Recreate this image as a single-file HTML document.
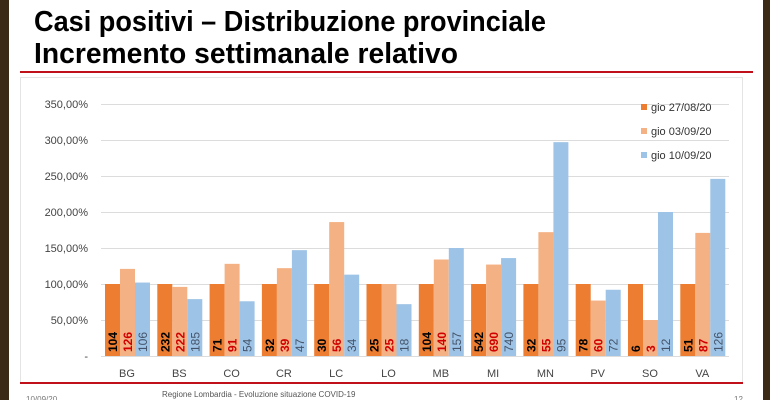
<!DOCTYPE html>
<html><head><style>
html,body{margin:0;padding:0;}
body{width:770px;height:400px;overflow:hidden;background:#3a2a16;position:relative;font-family:"Liberation Sans",sans-serif;}
</style></head><body>
<svg width="770" height="400" xmlns="http://www.w3.org/2000/svg" style="position:absolute;left:0;top:0">
<rect x="9" y="0" width="754" height="400" fill="#fff"/>
<text x="34" y="31" font-size="29" font-weight="bold" fill="#000" font-family="Liberation Sans Narrow, Liberation Sans, sans-serif" textLength="512" lengthAdjust="spacingAndGlyphs">Casi positivi – Distribuzione provinciale</text>
<text x="34" y="63" font-size="29" font-weight="bold" fill="#000" font-family="Liberation Sans Narrow, Liberation Sans, sans-serif" textLength="424" lengthAdjust="spacingAndGlyphs">Incremento settimanale relativo</text>
<rect x="20" y="71" width="733" height="2" fill="#c0101a"/>
<rect x="20.5" y="77.5" width="722" height="306" fill="none" stroke="#e4e4e4"/>
<rect x="20" y="382" width="723" height="2" fill="#c0101a"/>
<g stroke="#dcdcdc" stroke-width="1">
<line x1="101" x2="729" y1="104.5" y2="104.5"/><line x1="101" x2="729" y1="140.5" y2="140.5"/>
<line x1="101" x2="729" y1="176.5" y2="176.5"/><line x1="101" x2="729" y1="212.5" y2="212.5"/>
<line x1="101" x2="729" y1="248.5" y2="248.5"/><line x1="101" x2="729" y1="284.5" y2="284.5"/>
<line x1="101" x2="729" y1="320.5" y2="320.5"/><line x1="101" x2="729" y1="356.5" y2="356.5"/>
</g>
<g font-size="11" fill="#444" text-anchor="end">
<text x="88" y="108">350,00%</text><text x="88" y="144">300,00%</text><text x="88" y="180">250,00%</text>
<text x="88" y="216">200,00%</text><text x="88" y="252">150,00%</text><text x="88" y="288">100,00%</text>
<text x="88" y="324">50,00%</text><text x="88" y="360">-</text>
</g>
<g id="bars"></g>
<g font-size="11" fill="#333">
<rect x="641" y="104" width="6" height="6" fill="#ED7D31"/><text x="651" y="111">gio 27/08/20</text>
<rect x="641" y="128" width="6" height="6" fill="#F4B183"/><text x="651" y="135">gio 03/09/20</text>
<rect x="641" y="152" width="6" height="6" fill="#9DC3E6"/><text x="651" y="159">gio 10/09/20</text>
</g>
<text x="162" y="397" font-size="8" fill="#555">Regione Lombardia - Evoluzione situazione COVID-19</text>
<text x="26" y="402" font-size="8" fill="#777">10/09/20</text>
<text x="734" y="402" font-size="8" fill="#777">12</text>
</svg>
<script>
var d=[["BG",100,121,102,104,126,106],["BS",100,96,79,232,222,185],["CO",100,128,76,71,91,54],["CR",100,122,147,32,39,47],["LC",100,186,113,30,56,34],["LO",100,100,72,25,25,18],["MB",100,134,150,104,140,157],["MI",100,127,136,542,690,740],["MN",100,172,297,32,55,95],["PV",100,77,92,78,60,72],["SO",100,50,200,6,3,12],["VA",100,171,246,51,87,126]];
var c=["#ED7D31","#F4B183","#9DC3E6"],tc=["#000","#d00000","#44546A"],s="";
d.forEach(function(r,i){var cx=127+i*52.3;
for(var k=0;k<3;k++){var x=cx-22+k*15,h=r[k+1]*0.72;
s+='<rect x="'+x+'" y="'+(356-h)+'" width="15" height="'+h+'" fill="'+c[k]+'"/>';
var tx=x+12;s+='<text transform="translate('+tx+',352) rotate(-90)" font-size="12" font-weight="'+(k<2?'bold':'normal')+'" fill="'+tc[k]+'" font-family="Liberation Sans,sans-serif">'+r[k+4]+'</text>';}
s+='<text x="'+cx+'" y="377" font-size="11" fill="#444" text-anchor="middle">'+r[0]+'</text>';});
document.getElementById("bars").innerHTML=s;
</script>
</body></html>
